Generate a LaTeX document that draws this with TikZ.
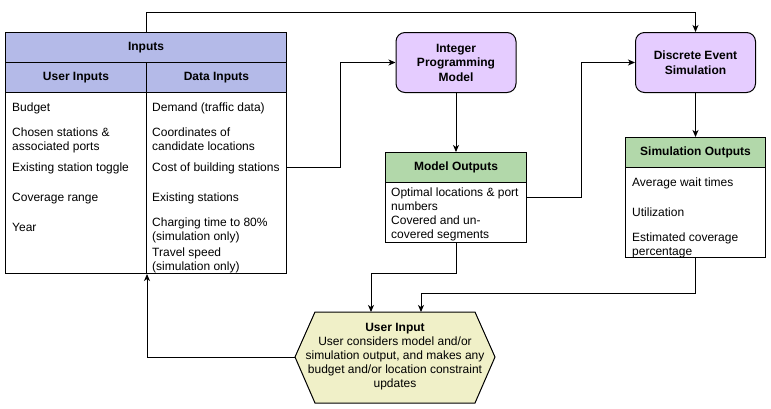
\documentclass[tikz,border=0pt]{standalone}
\usepackage{fontspec}
\setmainfont{Liberation Sans}
\usetikzlibrary{arrows.meta,calc}
\definecolor{inblue}{RGB}{180,186,232}
\definecolor{procpurple}{RGB}{229,204,255}
\definecolor{outgreen}{RGB}{178,216,170}
\definecolor{hexyellow}{RGB}{240,240,200}
\begin{document}
\begin{tikzpicture}[x=1pt,y=-1pt,
  every node/.style={font=\fontsize{12}{14}\selectfont},
  cell/.style={draw, line width=1pt, inner sep=0pt, anchor=north west, align=center},
  proc/.style={draw, line width=1pt, fill=procpurple, rounded corners=9pt, inner sep=0pt, anchor=north west, minimum width=120, minimum height=60, align=center, font=\fontsize{12}{14.5}\selectfont\bfseries},
  item/.style={anchor=north west, inner sep=0pt, align=left},
  arr/.style={line width=1pt, -{Stealth[length=7pt,width=6pt,inset=2pt]}},
  ln/.style={line width=1pt}
]
\useasboundingbox (0,0) rectangle (771,408);

% Inputs table
\node[cell, fill=inblue, minimum width=281, minimum height=30] (inHead) at (5,32) {\bfseries Inputs};
\node[cell, fill=inblue, minimum width=141, minimum height=30] (userHead) at (5,62) {\bfseries User Inputs};
\node[cell, fill=inblue, minimum width=140, minimum height=30] (dataHead) at (146,62) {\bfseries Data Inputs};
\node[cell, fill=white, minimum width=141, minimum height=181] (userBody) at (5,92) {};
\node[cell, fill=white, minimum width=140, minimum height=181] (dataBody) at (146,92) {};

\node[item] (u1) at (12,101.5) {\strut Budget};
\node[item] (u2) at (12,126.5) {\strut Chosen stations \&\\associated ports};
\node[item] (u3) at (12,161.5) {\strut Existing station toggle};
\node[item] (u4) at (12,191.5) {\strut Coverage range};
\node[item] (u5) at (12,221.5) {\strut Year};

\node[item] (d1) at (152,101.5) {\strut Demand (traffic data)};
\node[item] (d2) at (152,126.5) {\strut Coordinates of\\candidate locations};
\node[item] (d3) at (152,161.5) {\strut Cost of building stations};
\node[item] (d4) at (152,191.5) {\strut Existing stations};
\node[item] (d5) at (152,216.5) {\strut Charging time to 80\%\\(simulation only)};
\node[item] (d6) at (152,246.5) {\strut Travel speed\\(simulation only)};

% Process boxes
\node[proc] (ip) at (395.5,32) {Integer\\Programming\\Model};
\node[proc] (des) at (635,32) {Discrete Event\\Simulation};

% Model outputs
\node[cell, fill=outgreen, minimum width=141, minimum height=30] (mHead) at (385,152) {\bfseries Model Outputs};
\node[cell, fill=white, minimum width=141, minimum height=60] (mBody) at (385,182) {};
\node[item] (m1) at (391,186.5) {\strut Optimal locations \& port\\numbers};
\node[item] (m2) at (391,214.5) {\strut Covered and un-\\covered segments};

% Simulation outputs
\node[cell, fill=outgreen, minimum width=140, minimum height=30] (sHead) at (625,137) {\bfseries Simulation Outputs};
\node[cell, fill=white, minimum width=140, minimum height=90] (sBody) at (625,167) {};
\node[item] (s1) at (632,176.5) {\strut Average wait times};
\node[item] (s2) at (632,206.5) {\strut Utilization};
\node[item] (s3) at (632,231.5) {\strut Estimated coverage\\percentage};

% Hexagon
\coordinate (hL) at (295,357);
\coordinate (hTL) at (315,312);
\coordinate (hTR) at (475,312);
\coordinate (hR) at (495,357);
\coordinate (hBR) at (475,403);
\coordinate (hBL) at (315,403);
\draw[ln, fill=hexyellow] (hL) -- (hTL) -- (hTR) -- (hR) -- (hBR) -- (hBL) -- cycle;
\node[align=center, inner sep=0pt] (hex) at (395,357) {\textbf{User Input}\\User considers model and/or\\simulation output, and makes any\\budget and/or location constraint\\updates};
\coordinate (hIn1) at (371,312);
\coordinate (hIn2) at (421,312);

% Connectors
\draw[arr] (inHead.north) -- ++(0,-20) -| (des.north);
\coordinate (costOut) at (286,167);
\draw[arr] (costOut) -- ++(54,0) |- (ip.west);
\draw[arr] (ip.south) -- (mHead.north);
\coordinate (optOut) at (526,197);
\draw[arr] (optOut) -- ++(55,0) |- (des.west);
\draw[arr] (des.south) -- (sHead.north);
\draw[arr] (mBody.south) -- ++(0,30) -| (hIn1);
\draw[arr] (sBody.south) -- ++(0,35) -| (hIn2);
\draw[arr] (hL) -| (userBody.south east);
\end{tikzpicture}
\end{document}
